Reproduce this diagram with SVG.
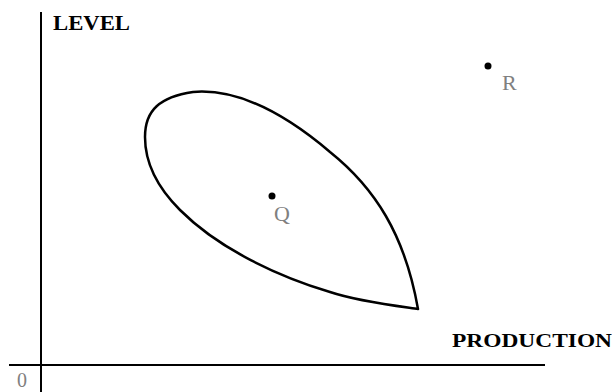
<svg xmlns="http://www.w3.org/2000/svg" width="612" height="392" viewBox="0 0 612 392">
<style>
.axis{stroke:#000;stroke-width:2;fill:none}
.curve{stroke:#000;stroke-width:2.5;fill:none;stroke-linejoin:round}
.lbl{font-family:"Liberation Serif","Times New Roman",serif;font-weight:bold;fill:#000}
.pt{font-family:"Liberation Serif","Times New Roman",serif;fill:#808080}
</style>
<rect width="612" height="392" fill="#fff"/>
<g id="axes">
<line class="axis" x1="41" y1="12" x2="41" y2="392"/>
<line class="axis" x1="9" y1="365" x2="545" y2="365"/>
</g>
<text class="lbl" x="53" y="30" font-size="21" textLength="77" lengthAdjust="spacingAndGlyphs">LEVEL</text>
<text class="lbl" x="452" y="347" font-size="18.5" textLength="160" lengthAdjust="spacingAndGlyphs">PRODUCTION</text>
<text class="pt" x="17" y="387" font-size="22" textLength="10" lengthAdjust="spacingAndGlyphs">0</text>
<path id="region" class="curve" d="M418,309 C405,307 360,302 330,292 C280,277 220,250 180,210 C155,185 145,160 145,137 C145,110 160,97 193,92 C240,88 290,118 330,152 C375,188 405,235 418,309 Z"/>
<g id="Q">
<circle cx="272" cy="196" r="3.5" fill="#000"/>
<text class="pt" x="274" y="221" font-size="22">Q</text>
</g>
<g id="R">
<circle cx="488" cy="66" r="3.5" fill="#000"/>
<text class="pt" x="502" y="90" font-size="22">R</text>
</g>
</svg>
